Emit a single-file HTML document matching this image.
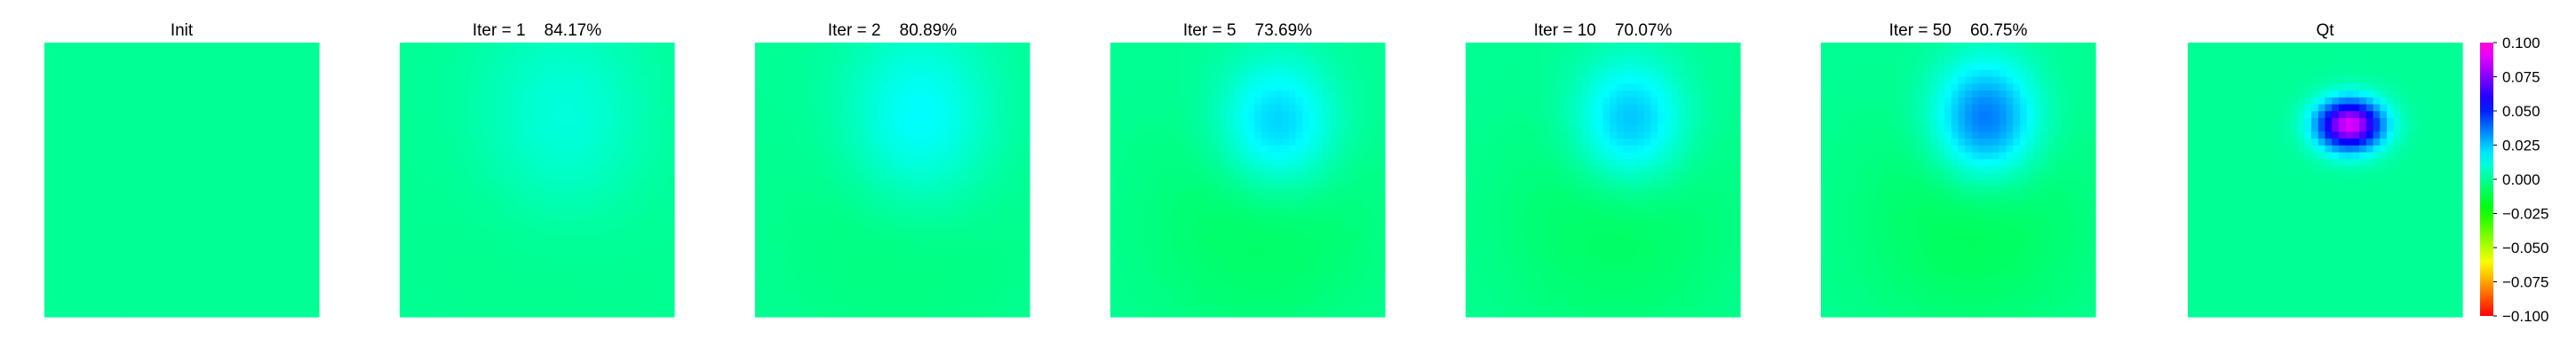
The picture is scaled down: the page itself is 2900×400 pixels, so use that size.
<!DOCTYPE html>
<html><head><meta charset="utf-8"><style>
html,body{margin:0;padding:0;background:#fff;}
svg{display:block;font-family:"Liberation Sans","DejaVu Sans",sans-serif;}
text{white-space:pre;}
</style></head><body>
<svg id="chart" width="2900" height="400" viewBox="0 0 2900 400"></svg>
<script>
const titles = ["Init","Iter = 1    84.17%","Iter = 2    80.89%","Iter = 5    73.69%","Iter = 10    70.07%","Iter = 50    60.75%","Qt"];
const peaks = [0, 0.012, 0.018, 0.026, 0.028, 0.040, 0.090];
const peakX = [0.6, 0.60, 0.60, 0.61, 0.60, 0.60, 0.59];
const peakY = [0.3, 0.30, 0.29, 0.30, 0.29, 0.28, 0.30];
const sigX = [0.2, 0.22, 0.19, 0.15, 0.14, 0.13, 0.085];
const sigY = [0.3, 0.28, 0.24, 0.17, 0.16, 0.15, 0.065];
const troughs = [0, -0.003, -0.005, -0.008, -0.008, -0.009, 0];
const cbTicks = [0.1, 0.075, 0.05, 0.025, 0, -0.025, -0.05, -0.075, -0.1];
const cbLabels = ["0.100","0.075","0.050","0.025","0.000","\u22120.025","\u22120.050","\u22120.075","\u22120.100"];
const vmin = -0.1, vmax = 0.1;

const NS = "http://www.w3.org/2000/svg";
const svg = document.getElementById('chart');
const panelX = [50, 450, 850, 1250, 1650, 2050, 2463];
const panelTop = 48, panelSize = 309, N = 40;
function color(v){
  let t = (v - vmin)/(vmax - vmin); t = Math.max(0, Math.min(1, t));
  const h = t*310;
  return `hsl(${h.toFixed(1)},100%,50%)`;
}
function mk(tag, attrs){ const e = document.createElementNS(NS, tag); for (const k in attrs) e.setAttribute(k, attrs[k]); return e; }
const cell = panelSize / N;
titles.forEach((t, p) => {
  const g = mk('g', {});
  
  
  svg.appendChild(g);
  const title = mk('text', {x: panelX[p] + panelSize/2, y: 40, 'text-anchor': 'middle', 'font-size': 19, fill: '#000'});
  title.textContent = t;
  
  
  g.appendChild(title);
  for (let i = 0; i < N; i++) for (let j = 0; j < N; j++) {
    const x = (j + 0.5)/N, y = (i + 0.5)/N;
    const dx = (x - peakX[p])/sigX[p], dy = (y - peakY[p])/sigY[p];
    const dx2 = (x - 0.55)/0.3, dy2 = (y - 0.65)/0.3;
    const v = peaks[p]*Math.exp(-0.5*(dx*dx + dy*dy)) + troughs[p]*Math.exp(-0.5*(dx2*dx2 + dy2*dy2));
    const r = mk('rect', {x: (panelX[p] + j*cell).toFixed(2), y: (panelTop + i*cell).toFixed(2), width: (cell + 0.6).toFixed(2), height: (cell + 0.6).toFixed(2), fill: color(v)});
    
    
    g.appendChild(r);
  }
});
const cbX = 2792, cbW = 15, cbTop = 48, cbH = 308;
const defs = mk('defs', {});
const grad = mk('linearGradient', {id: 'cbg', x1: 0, y1: 1, x2: 0, y2: 0});
for (let k = 0; k <= 20; k++) {
  const v = vmin + (vmax - vmin)*k/20;
  grad.appendChild(mk('stop', {offset: (k/20), 'stop-color': color(v)}));
}
defs.appendChild(grad); svg.appendChild(defs);
const cb = mk('g', {});


svg.appendChild(cb);
const bar = mk('rect', {x: cbX, y: cbTop, width: cbW, height: cbH, fill: 'url(#cbg)'});


cb.appendChild(bar);
cbTicks.forEach((v, k) => {
  const y = cbTop + (vmax - v)/(vmax - vmin)*cbH;
  const tk = mk('line', {x1: cbX + cbW, x2: cbX + cbW + 4, y1: y, y2: y, stroke: '#000', 'stroke-width': 1});
  
  
  cb.appendChild(tk);
  const lb = mk('text', {x: cbX + cbW + 10, y: y + 6, 'font-size': 17, fill: '#000'});
  lb.textContent = cbLabels[k];
  
  
  cb.appendChild(lb);
});
</script>
</body></html>
